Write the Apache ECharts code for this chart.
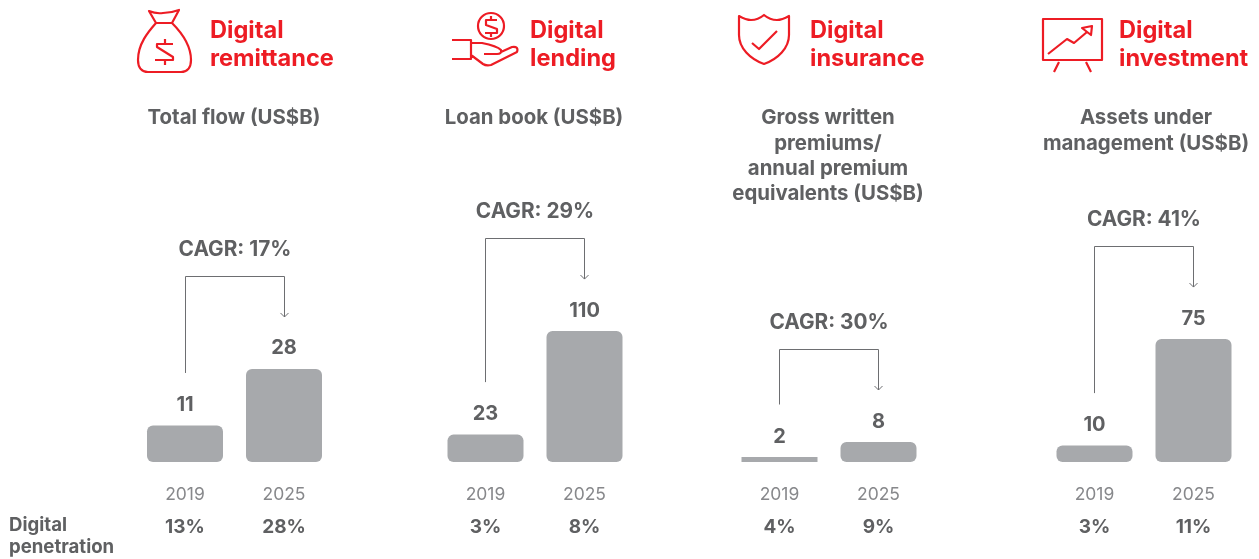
<!DOCTYPE html>
<html><head><meta charset="utf-8">
<style>html,body{margin:0;padding:0;background:#fff}#c{width:1259px;height:559px}</style>
<script src="https://cdn.jsdelivr.net/npm/echarts@6/dist/echarts.min.js"></script>
</head><body><div id="c"></div>
<script>
const years = ['2019', '2025'];
const remittance = [11, 28];
const lending = [23, 110];
const insurance = [2, 8];
const investment = [10, 75];
const remittancePenetration = ['13%', '28%'];
const lendingPenetration = ['3%', '8%'];
const insurancePenetration = ['4%', '9%'];
const investmentPenetration = ['3%', '11%'];
const cagr = ['CAGR: 17%', 'CAGR: 29%', 'CAGR: 30%', 'CAGR: 41%'];
const titles = ['Digital\nremittance', 'Digital\nlending', 'Digital\ninsurance', 'Digital\ninvestment'];
const subtitles = ['Total flow (US$B)', 'Loan book (US$B)',
  'Gross written\npremiums/\nannual premium\nequivalents (US$B)', 'Assets under\nmanagement (US$B)'];
const rowLabel = 'Digital\npenetration';
const panelValues = [remittance, lending, insurance, investment];
const panelPenetration = [remittancePenetration, lendingPenetration, insurancePenetration, investmentPenetration];
const axisMax = [60.2, 168, 80, 122];

const RED = '#ed1c24', DARK = '#5f6062', YEAR = '#87888b', BAR = '#a7a9ac', LINE = '#6d6e71';
const FONT = 'Inter';
const gridLefts = [135.5, 436, 730, 1045];
const titleX = [210, 530, 810, 1119];
const subX = [234, 534, 828, 1146];

const grids = [], xAxes = [], yAxes = [], series = [];
panelValues.forEach((vals, i) => {
  grids.push({ left: gridLefts[i], width: 198, top: 262, height: 200 });
  xAxes.push({
    type: 'category', gridIndex: i, data: years, position: 'bottom',
    axisLine: { show: false }, axisTick: { show: false },
    axisLabel: { color: YEAR, fontFamily: FONT, fontSize: 17.5, margin: 23.5 }
  });
  xAxes.push({
    type: 'category', gridIndex: i, data: panelPenetration[i], position: 'bottom', offset: 34,
    axisLine: { show: false }, axisTick: { show: false },
    axisLabel: { color: DARK, fontFamily: FONT, fontSize: 19, fontWeight: 700, margin: 22 }
  });
  yAxes.push({ type: 'value', gridIndex: i, min: 0, max: axisMax[i], show: false });
  series.push({
    type: 'bar', xAxisIndex: i * 2, yAxisIndex: i, barWidth: 76,
    data: vals.map(v => ({
      value: v,
      itemStyle: { color: BAR, borderRadius: v / axisMax[i] < 0.05 ? 0 : 6 }
    })),
    label: { show: true, position: 'top', distance: 10.5, color: DARK, fontFamily: FONT, fontSize: 20, fontWeight: 700 }
  });
  series.push({
    type: 'custom', xAxisIndex: i * 2, yAxisIndex: i, silent: true, z: 3,
    data: [[0, vals[0], vals[1]]],
    renderItem: (params, api) => {
      const a = api.coord([0, vals[0]]);
      const b = api.coord([1, vals[1]]);
      const top = Math.round(b[1] - 93) + 0.5;
      const lx = Math.floor(a[0]) + 0.5, rx = Math.floor(b[0]) + 0.5;
      const ly = a[1] - 52.5, ry = b[1] - 52;
      const ls = { stroke: LINE, lineWidth: 1, fill: null };
      return { type: 'group', children: [
        { type: 'polyline', shape: { points: [[lx, ly], [lx, top], [rx, top], [rx, ry]] }, style: ls },
        { type: 'polyline', shape: { points: [[rx - 4, ry - 4], [rx, ry], [rx + 4, ry - 4]] }, style: ls },
        { type: 'text', style: { x: (lx + rx) / 2, y: top - 27, text: cagr[i], align: 'center', verticalAlign: 'middle',
            fill: DARK, fontFamily: FONT, fontSize: 20.8, fontWeight: 700 } }
      ] };
    }
  });
});

const frame = 'M0 0L0 0M1259 559L1259 559';
const iconPaths = [
  // money bag
  'M149 11Q156 14 163 13Q171 13 179 10L172 23L156 23ZM156 23C148 32 138 44 138 60C138 68 142 72 148 72L181 72C187 72 191 68 191 60C191 44 181 32 172 23' +
  'M173 44L157 44L157 47L173 57L173 60L155 60M165 39L165 44M165 60L165 65',
  // hand with coin
  'M504 26A13 13 0 1 1 478 26A13 13 0 1 1 504 26M497 20L486 20L486 25L497 29L497 33L485 33M491 16L491 20M491 33L491 37' +
  'M452 40L471 40L471 59L452 59M471 43L482 43Q497 46 501 50Q502 54 497 54L484 54M501 52L512 47Q519 46 517 52L491 65Q486 66 483 64L471 55',
  // shield
  'M739 16Q746 20 751 20Q758 20 764 15Q770 20 777 20Q782 20 789 16L789 35C789 48 778 59 764 64C750 59 739 48 739 35Z' +
  'M752 43L759 49L777 31',
  // presentation board
  'M1043 19L1102 19L1102 60L1043 60ZM1059 62L1054 72M1086 62L1091 72' +
  'M1048 54L1067 39L1074 43L1087 32M1092 26L1082 28L1091 35Z'
];
series.push({
  type: 'custom', coordinateSystem: 'none', silent: true, data: [0],
  renderItem: () => ({
    type: 'group',
    children: iconPaths.map(p => ({
      type: 'path',
      shape: { pathData: frame + p, x: 0, y: 0, width: 1259, height: 559, layout: 'cover' },
      style: { stroke: RED, lineWidth: 2.2, fill: null, lineJoin: 'round' }
    }))
  })
});

const graphic = [];
titles.forEach((t, i) => graphic.push({
  type: 'text', x: titleX[i], y: 17,
  style: { text: t, fill: RED, fontFamily: FONT, fontSize: 23.6, fontWeight: 700, lineHeight: 28, align: 'left', verticalAlign: 'top' }
}));
subtitles.forEach((t, i) => graphic.push({
  type: 'text', x: subX[i], y: 105.5,
  style: { text: t, fill: DARK, fontFamily: FONT, fontSize: 20.4, fontWeight: 700, lineHeight: 25.3, align: 'center', verticalAlign: 'top' }
}));
graphic.push({
  type: 'text', x: 9, y: 514,
  style: { text: rowLabel, fill: DARK, fontFamily: FONT, fontSize: 18.6, fontWeight: 700, lineHeight: 22.5, align: 'left', verticalAlign: 'top' }
});

const chart = echarts.init(document.getElementById('c'), null, { renderer: 'canvas' });
chart.setOption({
  animation: false, backgroundColor: '#fff',
  grid: grids, xAxis: xAxes, yAxis: yAxes, series, graphic
});
</script></body></html>
